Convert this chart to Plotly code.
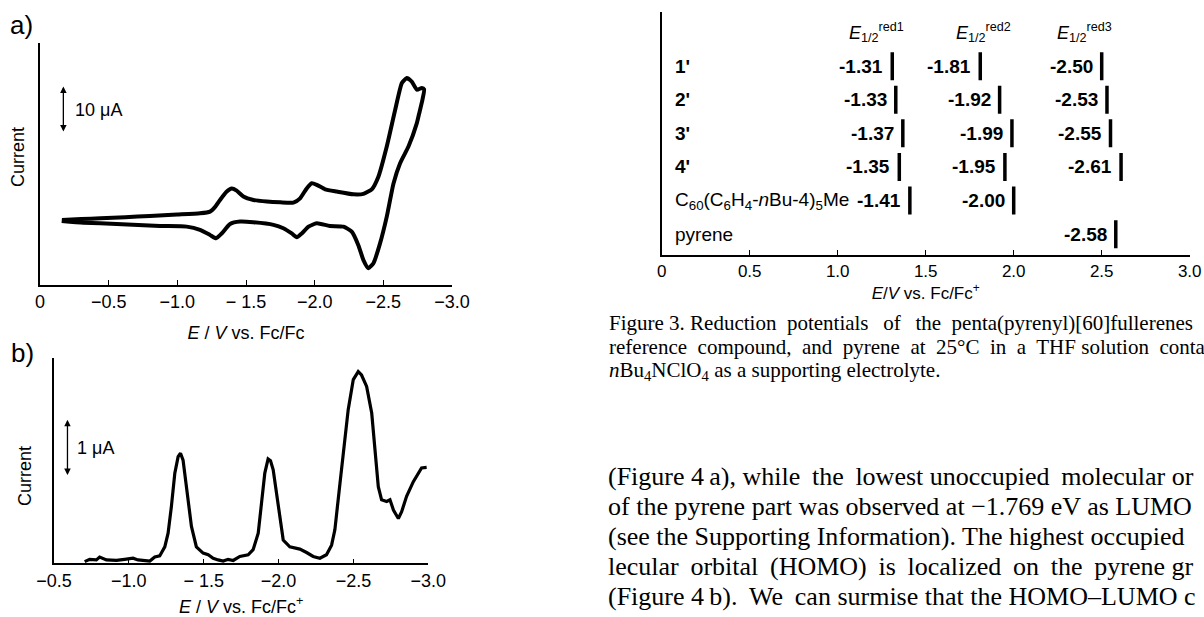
import plotly.graph_objects as go

W, H = 1204, 617

# ---------------- Panel a: cyclic voltammogram ----------------
cv_E = [-0.16, -0.30, -0.44, -0.62, -0.80, -1.00, -1.165, -1.238, -1.275, -1.311,
        -1.36, -1.396, -1.432, -1.481, -1.554, -1.651, -1.75, -1.845, -1.894, -1.942,
        -1.979, -2.015, -2.076, -2.161, -2.282, -2.355, -2.416, -2.464, -2.525, -2.586,
        -2.635, -2.671, -2.707, -2.744, -2.780, -2.797,
        -2.785, -2.76, -2.744, -2.683, -2.622, -2.574, -2.525, -2.476, -2.428, -2.391,
        -2.355, -2.318, -2.270, -2.21, -2.11, -2.015, -1.955, -1.906, -1.87, -1.833,
        -1.772, -1.70, -1.554, -1.457, -1.384, -1.323, -1.282, -1.238, -1.165, -1.068,
        -0.874, -0.558, -0.316, -0.158]
cv_I = [0.0, 0.2, 0.37, 0.6, 0.89, 1.2, 1.48, 1.85, 2.9, 4.44,
        6.3, 6.96, 6.5, 5.2, 4.44, 4.07, 3.9, 3.85, 4.8, 7.0,
        8.15, 7.8, 6.8, 6.3, 5.7, 5.8, 6.8, 9.6, 16.3, 24.4,
        30.4, 31.5, 30.7, 28.9, 29.3, 29.0,
        26.7, 23.5, 21.5, 16.3, 12.6, 8.1, 0.74, -5.2, -9.6, -10.7,
        -8.9, -5.6, -2.6, -1.5, -1.33, -0.74, -1.5, -3.0, -3.85, -3.0,
        -1.85, -1.1, -0.52, -0.37, -0.9, -3.0, -4.07, -3.33, -2.2, -1.48,
        -1.33, -0.89, -0.6, -0.22]

# ---------------- Panel b: differential pulse voltammogram ----------------
dpv_E = [-0.705, -0.738, -0.783, -0.805, -0.85, -0.917, -0.972, -1.028, -1.061, -1.095,
         -1.14, -1.173, -1.206, -1.24, -1.262, -1.284, -1.307, -1.329, -1.345, -1.362,
         -1.385, -1.402, -1.418, -1.451, -1.496, -1.53, -1.563, -1.596, -1.63, -1.663,
         -1.697, -1.741, -1.797, -1.83, -1.864, -1.886, -1.908, -1.93, -1.946, -1.964,
         -1.986, -2.008, -2.031, -2.075, -2.142, -2.187, -2.231, -2.276, -2.32, -2.354,
         -2.376, -2.41, -2.443, -2.465, -2.499, -2.532, -2.554, -2.588, -2.622, -2.644,
         -2.666, -2.688, -2.722, -2.744, -2.767, -2.8, -2.822, -2.855, -2.9, -2.955, -2.989]
dpv_I = [0.0, 0.04, 0.03, 0.08, 0.03, 0.02, 0.04, 0.06, 0.03, 0.02,
         0.01, 0.08, 0.10, 0.26, 0.50, 0.97, 1.56, 1.85, 1.91, 1.79,
         1.32, 0.91, 0.62, 0.26, 0.15, 0.12, 0.06, 0.03, 0.01, 0.04,
         0.02, 0.09, 0.12, 0.21, 0.50, 1.03, 1.56, 1.81, 1.78, 1.62,
         1.21, 0.74, 0.38, 0.26, 0.22, 0.16, 0.09, 0.06, 0.12, 0.29,
         0.56, 1.38, 2.15, 2.68, 3.21, 3.35, 3.29, 3.09, 2.62, 2.03,
         1.32, 1.09, 1.06, 1.09, 0.91, 0.76, 0.88, 1.15, 1.41, 1.65, 1.66]

# ---------------- Right: reduction potentials ----------------
compounds = ["<b>1'</b>", "<b>2'</b>", "<b>3'</b>", "<b>4'</b>",
             "C<sub>60</sub>(C<sub>6</sub>H<sub>4</sub>-<i>n</i>Bu-4)<sub>5</sub>Me", "pyrene"]
red1 = [-1.31, -1.33, -1.37, -1.35, -1.41, None]
red2 = [-1.81, -1.92, -1.99, -1.95, -2.00, None]
red3 = [-2.50, -2.53, -2.55, -2.61, None, -2.58]
headers = ["<i>E</i><sub>1/2</sub><sup>red1</sup>",
           "<i>E</i><sub>1/2</sub><sup>red2</sup>",
           "<i>E</i><sub>1/2</sub><sup>red3</sup>"]
header_pos = [1.22, 1.83, 2.40]

tick_a = [0, -0.5, -1.0, -1.5, -2.0, -2.5, -3.0]
tick_a_text = ["0", "\u22120.5", "\u22121.0", "\u2212 1.5", "\u22122.0", "\u22122.5", "\u22123.0"]
tick_b = [-0.5, -1.0, -1.5, -2.0, -2.5, -3.0]
tick_b_text = ["\u22120.5", "\u22121.0", "\u2212 1.5", "\u22122.0", "\u22122.5", "\u22123.0"]
tick_c = [0, 0.5, 1.0, 1.5, 2.0, 2.5, 3.0]
tick_c_text = ["0", "0.5", "1.0", "1.5", "2.0", "2.5", "3.0"]

T = "\u2009"  # thin space used to imitate the justified page text
caption_lines = [
    "Figure 3. Reduction  potentials  " + T + "of  " + T + "the  penta(pyrenyl)[60]fullerenes",
    "reference  compound,  and  pyrene  at  25\u00b0C  in  a  THF solution  conta",
    "<i>n</i>Bu<sub>4</sub>NClO<sub>4</sub> as a supporting electrolyte.",
]
body_lines = [
    "(Figure 4" + T + "a), while " + T + "the " + T + "lowest unoccupied " + T + "molecular or",
    "of the pyrene part was observed at \u22121.769 eV as LUMO",
    "(see the Supporting Information). The highest occupied",
    "lecular " + T + "orbital " + T + "(HOMO) " + T + "is " + T + "localized " + T + "on " + T + "the " + T + "pyrene gr",
    "(Figure 4" + T + "b). " + T + "We " + T + "can surmise that the HOMO\u2013LUMO c",
]

SANS = "Liberation Sans, Arial, sans-serif"
SERIF = "Liberation Serif, Times New Roman, serif"


def px(x):
    return x / W


def py(y):
    return 1 - y / H


fig = go.Figure()

fig.add_trace(go.Scatter(x=cv_E, y=cv_I, mode="lines", xaxis="x", yaxis="y",
                         line=dict(color="black", width=4, shape="spline", smoothing=0.5),
                         showlegend=False, hoverinfo="skip"))
fig.add_trace(go.Scatter(x=dpv_E, y=dpv_I, mode="lines", xaxis="x2", yaxis="y2",
                         line=dict(color="black", width=3.2), showlegend=False, hoverinfo="skip"))

rows = list(range(len(compounds)))
for series in (red1, red2, red3):
    xs = [abs(v) for v in series if v is not None]
    ys = [r for r, v in zip(rows, series) if v is not None]
    fig.add_trace(go.Scatter(x=xs, y=ys, mode="markers", xaxis="x3", yaxis="y3",
                             marker=dict(symbol="line-ns", size=20,
                                         line=dict(color="black", width=3.5)),
                             showlegend=False, hoverinfo="skip"))

ann = []
for series in (red1, red2, red3):
    for r, v in zip(rows, series):
        if v is None:
            continue
        ann.append(dict(x=abs(v), y=r, xref="x3", yref="y3", text="<b>%.2f</b>" % v,
                        showarrow=False, xanchor="right", yanchor="middle", xshift=-7,
                        font=dict(family=SANS, size=19, color="black")))
for r, name in zip(rows, compounds):
    ann.append(dict(x=0, y=r, xref="x3", yref="y3", text=name, showarrow=False,
                    xanchor="left", yanchor="middle", xshift=11,
                    font=dict(family=SANS, size=19, color="black")))
for h, hx in zip(headers, header_pos):
    ann.append(dict(x=hx, y=-1, xref="x3", yref="y3", text=h, showarrow=False,
                    xanchor="center", yanchor="middle",
                    font=dict(family=SANS, size=18, color="black")))

ann += [
    dict(x=px(21), y=py(25), xref="paper", yref="paper", text="a)", showarrow=False,
         xanchor="center", yanchor="middle", font=dict(family=SANS, size=26, color="black")),
    dict(x=px(22), y=py(353), xref="paper", yref="paper", text="b)", showarrow=False,
         xanchor="center", yanchor="middle", font=dict(family=SANS, size=26, color="black")),
    dict(x=px(18), y=py(157), xref="paper", yref="paper", text="Current", showarrow=False,
         xanchor="center", yanchor="middle", textangle=-90,
         font=dict(family=SANS, size=18, color="black")),
    dict(x=px(25), y=py(476), xref="paper", yref="paper", text="Current", showarrow=False,
         xanchor="center", yanchor="middle", textangle=-90,
         font=dict(family=SANS, size=18, color="black")),
    dict(x=px(73), y=py(110), xref="paper", yref="paper", text="10 \u03bcA", showarrow=False,
         xanchor="left", yanchor="middle", font=dict(family=SANS, size=18, color="black")),
    dict(x=px(75), y=py(448), xref="paper", yref="paper", text="1 \u03bcA", showarrow=False,
         xanchor="left", yanchor="middle", font=dict(family=SANS, size=18, color="black")),
    dict(x=-0.17, y=29.6, ax=-0.17, ay=19.3, xref="x", yref="y", axref="x", ayref="y",
         text="", showarrow=True, arrowside="end+start", arrowhead=2, arrowsize=1,
         arrowwidth=1.3, arrowcolor="black"),
    dict(x=-0.59, y=2.5, ax=-0.59, ay=1.5, xref="x2", yref="y2", axref="x2", ayref="y2",
         text="", showarrow=True, arrowside="end+start", arrowhead=2, arrowsize=1,
         arrowwidth=1.3, arrowcolor="black"),
]

for i, t in enumerate(caption_lines):
    ann.append(dict(x=px(607), y=py(323 + 24 * i), xref="paper", yref="paper", text=t,
                    showarrow=False, xanchor="left", yanchor="middle",
                    font=dict(family=SERIF, size=21, color="black")))
for i, t in enumerate(body_lines):
    ann.append(dict(x=px(606), y=py(476 + 30 * i), xref="paper", yref="paper", text=t,
                    showarrow=False, xanchor="left", yanchor="middle",
                    font=dict(family=SERIF, size=26, color="black")))

axis_common = dict(showgrid=False, zeroline=False, showline=True, linecolor="black",
                   linewidth=1.5, ticks="inside", ticklen=5, tickwidth=1.2, tickcolor="black",
                   tickfont=dict(family=SANS, size=18, color="black"))
yaxis_common = dict(showgrid=False, zeroline=False, showline=True, linecolor="black",
                    linewidth=1.5, showticklabels=False, ticks="")

fig.update_layout(
    width=W, height=H, margin=dict(l=0, r=0, t=0, b=0),
    paper_bgcolor="white", plot_bgcolor="white", showlegend=False,
    xaxis=dict(domain=[px(40), px(452)], range=[0, -3.0], tickvals=tick_a, ticktext=tick_a_text,
               anchor="y", automargin=False,
               title=dict(text="<i>E</i> / <i>V</i> vs. Fc/Fc", standoff=15,
                          font=dict(family=SANS, size=18, color="black")),
               **axis_common),
    yaxis=dict(domain=[py(285), py(43)], range=[-14.44, 39.27], anchor="x", **yaxis_common),
    xaxis2=dict(domain=[px(54), px(428.3)], range=[-0.5, -3.0], tickvals=tick_b,
                ticktext=tick_b_text, anchor="y2", automargin=False,
                title=dict(text="<i>E</i> / <i>V</i> vs. Fc/Fc<sup>+</sup>", standoff=14,
                           font=dict(family=SANS, size=18, color="black")),
                **axis_common),
    yaxis2=dict(domain=[py(563.3), py(358)], range=[-0.03, 3.59], anchor="x2", **yaxis_common),
    xaxis3=dict(domain=[px(661.7), px(1189.7)], range=[0, 3.0], tickvals=tick_c,
                ticktext=tick_c_text, anchor="y3", automargin=False,
                title=dict(text="<i>E</i>/<i>V</i> vs. Fc/Fc<sup>+</sup>", standoff=4,
                           font=dict(family=SANS, size=17, color="black")),
                **dict(axis_common, tickfont=dict(family=SANS, size=17, color="black"))),
    yaxis3=dict(domain=[py(255), py(11.7)], range=[5.62, -1.62], anchor="x3", **yaxis_common),
    annotations=ann,
)

fig.write_html("out.html")
